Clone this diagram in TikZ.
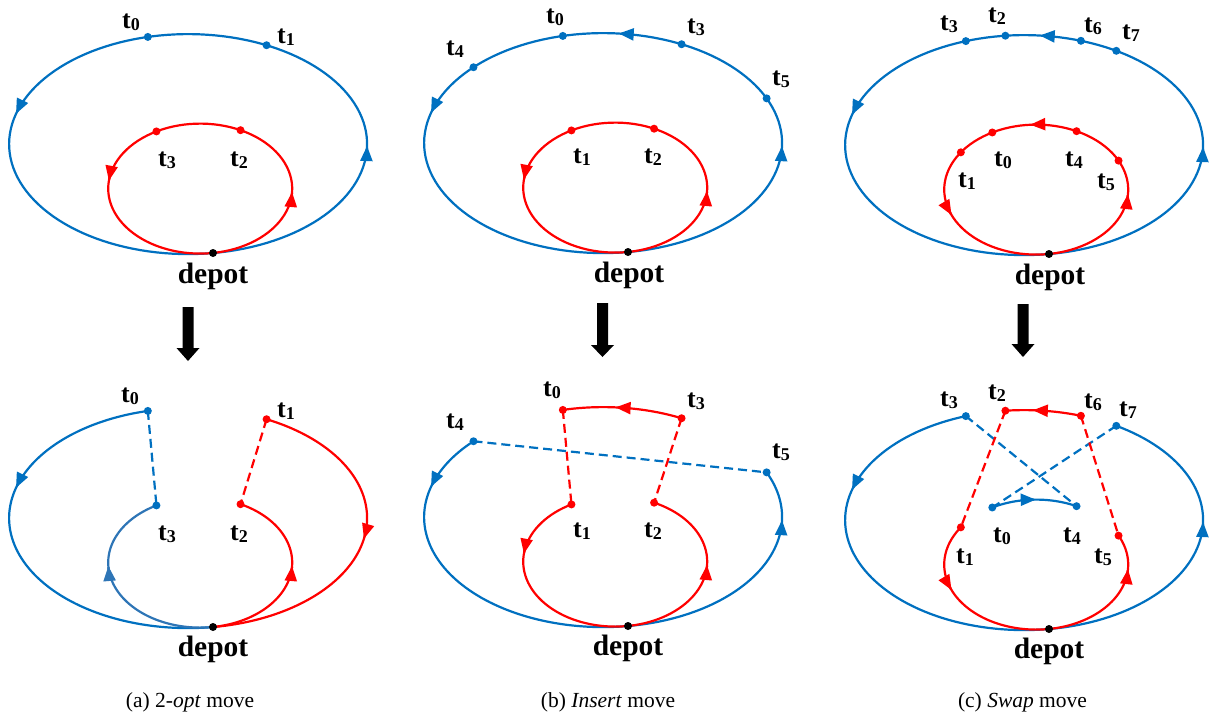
\documentclass[tikz,border=0pt]{standalone}
\usepackage{fontspec}
\setmainfont{Liberation Serif}
\usetikzlibrary{arrows.meta}
\definecolor{myblue}{RGB}{0,112,192}
\definecolor{myblueb}{RGB}{46,117,182}
\definecolor{myred}{RGB}{255,0,0}
% ellipse parametrisations, origin at the depot, y pointing down
\newcommand{\BEx}[1]{-24.9+179*cos(#1)}
\newcommand{\BEy}[1]{-108.9+110*sin(#1)}
\newcommand{\REx}[1]{-12.8+92*cos(#1)}
\newcommand{\REy}[1]{-64.4+65*sin(#1)}
\newcommand{\Barc}[3]{\draw[#1] plot[domain=#2:#3,samples=140] ({\BEx{\x}},{\BEy{\x}});}
\newcommand{\Rarc}[3]{\draw[#1] plot[domain=#2:#3,samples=100] ({\REx{\x}},{\REy{\x}});}
\newcommand{\Btip}[3]{\draw[#1] ({\BEx{#2}},{\BEy{#2}}) -- ({\BEx{#3}},{\BEy{#3}});}
\newcommand{\Rtip}[3]{\draw[#1] ({\REx{#2}},{\REy{#2}}) -- ({\REx{#3}},{\REy{#3}});}
\newcommand{\OnB}[3]{\node[#1] (#2) at ({\BEx{#3}},{\BEy{#3}}) {};}
\newcommand{\OnR}[3]{\node[#1] (#2) at ({\REx{#3}},{\REy{#3}}) {};}
\newcommand{\tl}[1]{t\raisebox{-2pt}{\fontsize{18}{18}\selectfont #1}}
\tikzset{
  tiptri/.tip={Triangle[length=15pt 0 0,width=12pt 0 0]},
  bline/.style={myblue, line width=2.2pt},
  bline2/.style={myblueb, line width=2.2pt},
  rline/.style={myred, line width=2.2pt},
  barr/.style={myblue, line width=2.2pt, -tiptri},
  barr2/.style={myblueb, line width=2.2pt, -tiptri},
  rarr/.style={myred, line width=2.2pt, -tiptri},
  bdash/.style={myblue, line width=2.2pt, dash pattern=on 9pt off 5pt},
  rdash/.style={myred, line width=2.2pt, dash pattern=on 9pt off 5pt},
  bdot/.style={circle, fill=myblue, inner sep=0pt, minimum size=8pt},
  rdot/.style={circle, fill=myred, inner sep=0pt, minimum size=8pt},
  kdot/.style={circle, fill=black, inner sep=0pt, minimum size=8pt},
  lab/.style={font=\fontsize{26}{26}\selectfont\bfseries, anchor=base, inner sep=0pt},
  dlab/.style={font=\fontsize{29.5}{30}\selectfont\bfseries, anchor=base, inner sep=0pt},
  captxt/.style={font=\fontsize{21.5}{22}\selectfont, anchor=base, inner sep=0pt},
  bigarrow/.style={fill=black}
}
\begin{document}
\begin{tikzpicture}[x=1pt,y=-1pt]
\useasboundingbox (0,0) rectangle (1212,718);

%================ (a) top
\begin{scope}[shift={(213,253)}]
  \Barc{bline}{82}{-278}
  \Rarc{rline}{82}{-278}
  \Btip{barr}{197}{196} \Btip{barr}{2}{1}
  \Rtip{rarr}{188}{187} \Rtip{rarr}{4}{3}
  \OnB{bdot}{a0}{257} \OnB{bdot}{a1}{296}
  \OnR{rdot}{a3}{241.6} \OnR{rdot}{a2}{296}
  \node[kdot] (ad) at (0,0) {};
\end{scope}
\node[lab] (la0) at (131,28) {\tl{0}};
\node[lab] (la1) at (286,43) {\tl{1}};
\node[lab] (la3) at (167,166) {\tl{3}};
\node[lab] (la2) at (239,166) {\tl{2}};
\node[dlab] (lad) at (213,283) {depot};

%================ (b) top
\begin{scope}[shift={(628,252)}]
  \Barc{bline}{82}{-278}
  \Rarc{rline}{82}{-278}
  \Btip{barr}{276}{275} \Btip{barr}{197}{196} \Btip{barr}{2.6}{1.6}
  \Rtip{rarr}{188}{187} \Rtip{rarr}{4}{3}
  \OnB{bdot}{b0}{257} \OnB{bdot}{b3}{296} \OnB{bdot}{b4}{223.6} \OnB{bdot}{b5}{336}
  \OnR{rdot}{b1}{241.6} \OnR{rdot}{b2}{295}
  \node[kdot] (bd) at (0,0) {};
\end{scope}
\node[lab] (lb0) at (555,23) {\tl{0}};
\node[lab] (lb3) at (696,33) {\tl{3}};
\node[lab] (lb4) at (455,55) {\tl{4}};
\node[lab] (lb5) at (781,85) {\tl{5}};
\node[lab] (lb1) at (582,163) {\tl{1}};
\node[lab] (lb2) at (653,163) {\tl{2}};
\node[dlab] (lbd) at (629,282) {depot};

%================ (c) top
\begin{scope}[shift={(1049,254)}]
  \Barc{bline}{82}{-278}
  \Rarc{rline}{82}{-278}
  \Btip{barr}{276}{275} \Btip{barr}{197}{196} \Btip{barr}{2}{1}
  \Rtip{rarr}{267.3}{266.3} \Rtip{rarr}{158}{157} \Rtip{rarr}{5}{4}
  \OnB{bdot}{c3}{251} \OnB{bdot}{c2}{264} \OnB{bdot}{c6}{288.5} \OnB{bdot}{c7}{301}
  \OnR{rdot}{c1}{215} \OnR{rdot}{c0}{241.5} \OnR{rdot}{c4}{296} \OnR{rdot}{c5}{333.5}
  \node[kdot] (cd) at (0,0) {};
\end{scope}
\node[lab] (lc3) at (949,30) {\tl{3}};
\node[lab] (lc2) at (997,22) {\tl{2}};
\node[lab] (lc6) at (1093,32) {\tl{6}};
\node[lab] (lc7) at (1131,39) {\tl{7}};
\node[lab] (lc1) at (967,187) {\tl{1}};
\node[lab] (lc0) at (1003,166) {\tl{0}};
\node[lab] (lc4) at (1074,166) {\tl{4}};
\node[lab] (lc5) at (1106,188) {\tl{5}};
\node[dlab] (lcd) at (1050,284) {depot};

%================ big arrows
\fill[bigarrow] (182.5,307) -- (193.5,307) -- (193.5,348) -- (199.5,348) -- (188,361) -- (176.5,348) -- (182.5,348) -- cycle;
\fill[bigarrow] (597,303) -- (608,303) -- (608,345) -- (614,345) -- (602.5,357) -- (591,345) -- (597,345) -- cycle;
\fill[bigarrow] (1017.5,304) -- (1028.5,304) -- (1028.5,344) -- (1034.5,344) -- (1023,357) -- (1011.5,344) -- (1017.5,344) -- cycle;

%================ (a) bottom
\begin{scope}[shift={(213,627)}]
  \Barc{bline}{257}{82}
  \Rarc{bline2}{82}{241.6}
  \Rarc{rline}{82}{-64}
  \Barc{rline}{-64}{82}
  \Btip{barr}{197}{196}
  \Rtip{barr2}{176}{177}
  \Rtip{rarr}{4}{3}
  \Btip{rarr}{9.8}{10.8}
  \OnB{bdot}{A0}{257} \OnR{bdot}{A3}{241.6}
  \OnB{rdot}{A1}{296} \OnR{rdot}{A2}{296}
  \node[kdot] (Ad) at (0,0) {};
  \draw[bdash] (A0.center) -- (A3.center);
  \draw[rdash] (A1.center) -- (A2.center);
\end{scope}
\node[lab] (lA0) at (130,402) {\tl{0}};
\node[lab] (lA1) at (286,417) {\tl{1}};
\node[lab] (lA3) at (167,540) {\tl{3}};
\node[lab] (lA2) at (239,540) {\tl{2}};
\node[dlab] (lAd) at (213,656) {depot};

%================ (b) bottom
\begin{scope}[shift={(628,626)}]
  \Barc{bline}{223.6}{-24}
  \Barc{rline}{296}{257}
  \Rarc{rline}{241.6}{-65}
  \Btip{barr}{197}{196} \Btip{barr}{2.6}{1.6}
  \Btip{rarr}{275}{274}
  \Rtip{rarr}{188}{187} \Rtip{rarr}{4}{3}
  \OnB{rdot}{B0}{257} \OnB{rdot}{B3}{296} \OnB{bdot}{B4}{223.6} \OnB{bdot}{B5}{336}
  \OnR{rdot}{B1}{241.6} \OnR{rdot}{B2}{295}
  \node[kdot] (Bd) at (0,0) {};
  \draw[bdash] (B4.center) -- (B5.center);
  \draw[rdash] (B0.center) -- (B1.center);
  \draw[rdash] (B3.center) -- (B2.center);
\end{scope}
\node[lab] (lB0) at (552,396) {\tl{0}};
\node[lab] (lB3) at (696,407) {\tl{3}};
\node[lab] (lB4) at (455,428) {\tl{4}};
\node[lab] (lB5) at (781,458) {\tl{5}};
\node[lab] (lB1) at (582,537) {\tl{1}};
\node[lab] (lB2) at (653,537) {\tl{2}};
\node[dlab] (lBd) at (628,655) {depot};

%================ (c) bottom
\begin{scope}[shift={(1049,629)}]
  \Barc{bline}{251}{-59}
  \Barc{rline}{288.5}{264}
  \Rarc{bline}{241.5}{296}
  \Rarc{rline}{215}{-26.5}
  \Btip{barr}{197}{196} \Btip{barr}{2}{1}
  \Btip{rarr}{273.8}{272.8}
  \Rtip{barr}{268.7}{269.7}
  \Rtip{rarr}{158}{157} \Rtip{rarr}{5}{4}
  \OnB{bdot}{C3}{251} \OnB{rdot}{C2}{264} \OnB{rdot}{C6}{288.5} \OnB{bdot}{C7}{301}
  \OnR{rdot}{C1}{215} \OnR{bdot}{C0}{241.5} \OnR{bdot}{C4}{296} \OnR{rdot}{C5}{333.5}
  \node[kdot] (Cd) at (0,0) {};
  \draw[bdash] (C3.center) -- (C4.center);
  \draw[bdash] (C7.center) -- (C0.center);
  \draw[rdash] (C2.center) -- (C1.center);
  \draw[rdash] (C6.center) -- (C5.center);
\end{scope}
\node[lab] (lC3) at (949,406) {\tl{3}};
\node[lab] (lC2) at (997,399) {\tl{2}};
\node[lab] (lC6) at (1093,408) {\tl{6}};
\node[lab] (lC7) at (1128,416) {\tl{7}};
\node[lab] (lC0) at (1002,542) {\tl{0}};
\node[lab] (lC4) at (1072,542) {\tl{4}};
\node[lab] (lC1) at (965,563) {\tl{1}};
\node[lab] (lC5) at (1103,563) {\tl{5}};
\node[dlab] (lCd) at (1049,658) {depot};

%================ captions
\node[captxt] (capa) at (190,707) {(a)\ 2-\textit{opt} move};
\node[captxt] (capb) at (608,707) {(b)\ \textit{Insert} move};
\node[captxt] (capc) at (1022.5,707) {(c)\ \textit{Swap} move};
\end{tikzpicture}
\end{document}
